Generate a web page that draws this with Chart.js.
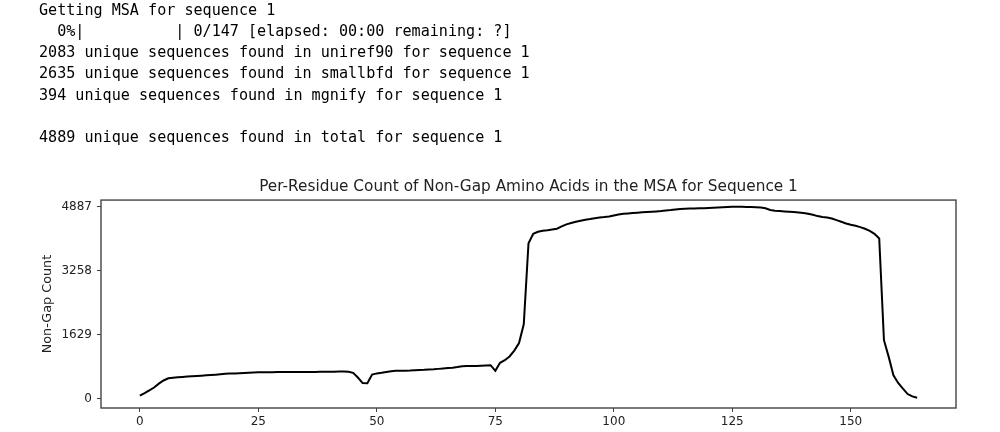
<!DOCTYPE html>
<html>
<head>
<meta charset="utf-8">
<script src="https://cdn.jsdelivr.net/npm/chart.js"></script>
<style>
  html, body { margin: 0; padding: 0; background: #fff; width: 1000px; height: 432px; overflow: hidden; }
  #log { position: absolute; left: 39px; top: -0.5px; margin: 0; font-family: "DejaVu Sans Mono", "Liberation Mono", monospace; font-size: 15.1px; line-height: 21.33px; color: #000; white-space: pre; z-index: 2; }
  #wrap { position: absolute; left: 0; top: 0; width: 1000px; height: 432px; }
</style>
</head>
<body>
<pre id="log"></pre>
<div id="wrap"><canvas id="c"></canvas></div>
<script>
// ---- console text ----
const logLines = [
  "Getting MSA for sequence 1",
  "  0%|          | 0/147 [elapsed: 00:00 remaining: ?]",
  "2083 unique sequences found in uniref90 for sequence 1",
  "2635 unique sequences found in smallbfd for sequence 1",
  "394 unique sequences found in mgnify for sequence 1",
  "",
  "4889 unique sequences found in total for sequence 1"
];

// ---- chart data ----
const chartTitle = "Per-Residue Count of Non-Gap Amino Acids in the MSA for Sequence 1";
const yLabel = "Non-Gap Count";
const xTicks = [0, 25, 50, 75, 100, 125, 150];
const yTicks = [0, 1629, 3258, 4887];
const counts = [
  85, 150, 220, 290, 390, 470, 525, 540, 550, 560,
  570, 578, 585, 592, 600, 608, 618, 630, 640, 645,
  650, 655, 660, 667, 672, 676, 678, 680, 682, 683,
  683, 683, 683, 684, 685, 686, 688, 688, 689, 690,
  692, 694, 696, 697, 690, 665, 545, 405, 400, 620,
  650, 665, 685, 705, 715, 718, 720, 722, 728, 735,
  740, 748, 755, 765, 775, 785, 795, 810, 832, 838,
  838, 840, 845, 852, 858, 715, 920, 985, 1080, 1230,
  1420, 1900, 3960, 4200, 4250, 4275, 4290, 4310, 4330, 4387,
  4440, 4475, 4505, 4530, 4555, 4575, 4598, 4615, 4625, 4642,
  4667, 4692, 4708, 4718, 4726, 4735, 4745, 4752, 4760, 4770,
  4778, 4795, 4805, 4820, 4830, 4840, 4842, 4845, 4848, 4852,
  4858, 4864, 4870, 4876, 4882, 4886, 4887, 4886, 4884, 4880,
  4874, 4866, 4850, 4805, 4785, 4778, 4770, 4760, 4752, 4740,
  4730, 4712, 4685, 4650, 4625, 4615, 4590, 4548, 4505, 4463,
  4430, 4405, 4370, 4327, 4276, 4200, 4080, 1494, 1070, 603,
  407, 265, 125, 65, 30
];

document.getElementById('log').textContent = logLines.join("\n");

const points = counts.map((v, i) => ({ x: i, y: v }));
const textColor = '#222';
const axisColor = '#444';

const frame = {
  id: 'frame',
  afterDatasetsDraw(chart) {
    const { ctx, chartArea: a } = chart;
    ctx.save();
    ctx.strokeStyle = axisColor;
    ctx.lineWidth = 1.4;
    ctx.strokeRect(a.left, a.top, a.right - a.left, a.bottom - a.top);
    ctx.restore();
  }
};

new Chart(document.getElementById('c'), {
  type: 'line',
  data: {
    datasets: [{
      data: points,
      borderColor: '#000',
      borderWidth: 2,
      pointRadius: 0,
      tension: 0,
      fill: false
    }]
  },
  options: {
    responsive: true,
    maintainAspectRatio: false,
    animation: false,
    layout: { padding: { top: 177.5, left: 0, right: 44, bottom: 0 } },
    plugins: {
      legend: { display: false },
      tooltip: { enabled: false },
      title: {
        display: true,
        fullSize: false,
        text: chartTitle,
        color: textColor,
        font: { family: 'DejaVu Sans', size: 15.3, weight: 'normal', lineHeight: 1.2 },
        padding: { top: 0, bottom: 4.2 }
      }
    },
    scales: {
      x: {
        type: 'linear',
        min: -8.2,
        max: 172.2,
        afterBuildTicks: s => { s.ticks = xTicks.map(v => ({ value: v })); },
        afterFit: s => { s.height = 24; },
        ticks: {
          color: textColor,
          font: { family: 'DejaVu Sans', size: 12 },
          padding: 2.5,
          maxRotation: 0,
          autoSkip: false
        },
        grid: { drawOnChartArea: false, drawTicks: true, tickLength: 4, tickColor: axisColor, tickWidth: 1 },
        border: { display: false }
      },
      y: {
        type: 'linear',
        min: -230,
        max: 5058,
        afterBuildTicks: s => { s.ticks = yTicks.map(v => ({ value: v })); },
        afterFit: s => { s.width = 101; },
        ticks: {
          color: textColor,
          font: { family: 'DejaVu Sans', size: 12 },
          padding: 5,
          autoSkip: false,
          callback: v => String(v)
        },
        title: {
          display: true,
          text: yLabel,
          color: textColor,
          font: { family: 'DejaVu Sans', size: 12.8, lineHeight: 1.2 },
          padding: { top: 40, bottom: 0 }
        },
        grid: { drawOnChartArea: false, drawTicks: true, tickLength: 4, tickColor: axisColor, tickWidth: 1 },
        border: { display: false }
      }
    }
  },
  plugins: [frame]
});
</script>
</body>
</html>
